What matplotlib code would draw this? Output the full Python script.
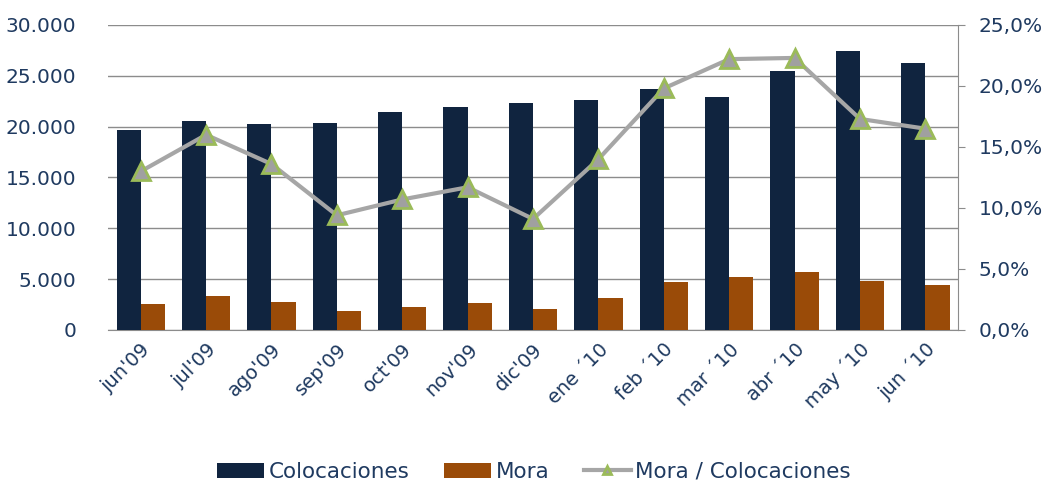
import matplotlib.pyplot as plt
import numpy as np
from matplotlib.ticker import FuncFormatter, MultipleLocator

# Data
months = ["jun'09", "jul'09", "ago'09", "sep'09", "oct'09", "nov'09", "dic'09",
          "ene ´10", "feb ´10", "mar ´10", "abr ´10", "may ´10", "jun ´10"]
colocaciones = [19700, 20550, 20250, 20400, 21400, 21950, 22300,
                22600, 23700, 22950, 25450, 27400, 26250]
mora = [2550, 3300, 2800, 1900, 2300, 2620, 2030,
        3180, 4750, 5180, 5670, 4820, 4430]
ratio = [13.0, 16.0, 13.6, 9.4, 10.7, 11.7, 9.1,
         14.0, 19.8, 22.2, 22.3, 17.3, 16.5]

NAVY = '#10243F'
ORANGE = '#9A4B08'
TEXT = '#1F3A60'
GRID = '#8C8C8C'


def main():
    fig = plt.figure(figsize=(10.53, 4.87), dpi=100)
    ax1 = fig.add_axes([0.1026, 0.3224, 0.8072, 0.6263])
    ax2 = ax1.twinx()

    x = np.arange(len(months))
    w = 0.37

    # --- Bars on the left axis ---
    ax1.bar(x - w / 2, colocaciones, width=w, color=NAVY, label='Colocaciones', zorder=3)
    ax1.bar(x + w / 2, mora, width=w, color=ORANGE, label='Mora', zorder=3)

    ax1.set_xlim(-0.5, len(months) - 0.5)
    ax1.set_ylim(0, 30000)
    ax1.yaxis.set_major_locator(MultipleLocator(5000))
    ax1.yaxis.set_major_formatter(FuncFormatter(lambda v, p: f"{int(v):,}".replace(',', '.')))
    ax1.grid(True, axis='y', color=GRID, linewidth=1)
    ax1.set_axisbelow(True)
    ax1.tick_params(axis='y', length=0, pad=23, labelsize=14.5, labelcolor=TEXT)
    ax1.tick_params(axis='x', length=0, pad=7, labelsize=14, labelcolor=TEXT)
    ax1.set_xticks(x)
    ax1.set_xticklabels(months, rotation=45, ha='right', rotation_mode='anchor')
    for s in ['left', 'top', 'right']:
        ax1.spines[s].set_visible(False)
    ax1.spines['bottom'].set_color(GRID)

    # --- Ratio line on the right axis ---
    ax2.plot(x, ratio, color='#A6A6A6', linewidth=3, marker='^', markersize=13,
             markerfacecolor='#A0A0A0', markeredgecolor='#9BBB59', markeredgewidth=2,
             label='Mora / Colocaciones', zorder=4)
    ax2.set_ylim(0, 25)
    ax2.yaxis.set_major_locator(MultipleLocator(5))
    ax2.yaxis.set_major_formatter(FuncFormatter(lambda v, p: f"{v:.1f}%".replace('.', ',')))
    ax2.tick_params(axis='y', length=5, color=GRID, pad=10, labelsize=14.5, labelcolor=TEXT)
    for s in ['left', 'top', 'bottom']:
        ax2.spines[s].set_visible(False)
    ax2.spines['right'].set_color(GRID)

    # --- Legend at the bottom ---
    h1, l1 = ax1.get_legend_handles_labels()
    h2, l2 = ax2.get_legend_handles_labels()
    leg = fig.legend(h1 + h2, l1 + l2, loc='center', bbox_to_anchor=(0.507, 0.031),
                     ncol=3, frameon=False, fontsize=15.5, handlelength=2.2,
                     handleheight=0.75, handletextpad=0.2, columnspacing=1.6,
                     markerscale=0.45)
    for t in leg.get_texts():
        t.set_color(TEXT)

    plt.savefig("out.png", dpi=100)


if __name__ == "__main__":
    main()
